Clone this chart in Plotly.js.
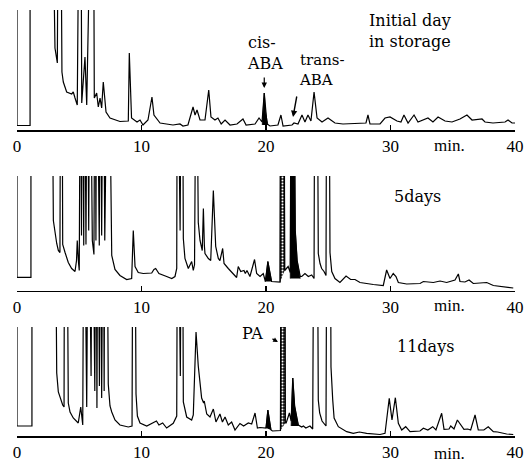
<!DOCTYPE html>
<html><head><meta charset="utf-8">
<script src="https://cdn.plot.ly/plotly-3.0.1.min.js"></script>
<style>html,body{margin:0;padding:0;background:#fff}#chart{width:530px;height:462px}</style>
</head><body><div id="chart"></div>
<script>
// ---- Data: retention time (min) and detector signal (arbitrary units) ----
const tickVals = [0, 10, 20, 30, 40];
const tickText = ["0", "10", "20", "30", "40"];

// Initial day in storage
const t1 = [0,0,1.05,1.05,null,2.79,3.05,3.24,3.33,3.49,3.61,3.72,3.99,4.39,4.52,4.66,4.84,5.02,5.12,5.20,5.46,5.60,6.02,6.13,6.21,6.40,6.53,6.67,6.80,6.93,7.15,7.47,8.27,8.94,9.02,9.20,9.64,9.88,10.12,10.52,10.84,11.00,11.49,12.53,13.09,13.33,13.73,14.14,14.30,14.46,14.70,15.10,15.40,15.58,15.90,16.14,16.40,16.71,17.11,17.67,18.15,18.40,19.12,19.44,19.68,19.86,20.08,20.32,20.96,21.20,21.37,22.09,22.25,22.57,22.89,23.13,23.37,23.61,23.86,24.10,24.50,24.98,25.54,26.18,27.55,28.03,28.19,28.35,29.16,29.56,29.96,30.52,30.84,31.08,31.41,31.89,32.21,33.01,33.41,33.82,34.38,34.94,35.58,36.14,36.55,37.35,37.59,38.23,39.20,39.44,39.76,40.00];
const s1 = [300,4.5,4.5,300,null,300,82,67,300,300,58,48,38,36,38,32,25,300,300,27,73,25,300,300,32,37,23,32,22,48,18,12,8.5,9,77,12,8,10,5,10,33,15,7,5,6,4,5,23,15,20,10,10,40,13,10,12,6,10,5,6,11,5,6,12,8,37,6,4,5,15,4,5,7,6,15,8,15,9,38,12,8,12,7,6,7,7,15,6,6,12,13,9,8,15,7,15,8,12,8,13,9,8,11,15,10,11,8,7,8,10,7,7];
const cisT = [19.70,19.86,19.96,20.15];
const cisS = [5,37,18,5];

// 5 days
const t2 = [0,0,1.12,1.12,null,2.79,2.92,3.19,3.32,3.45,3.51,3.61,3.67,3.86,4.12,4.39,4.66,4.78,4.84,4.94,5.00,5.10,5.18,5.26,5.36,5.41,5.54,5.65,5.76,5.86,6.05,6.18,6.27,6.34,6.40,6.55,6.61,6.67,6.80,6.93,7.05,7.30,7.36,7.61,7.87,8.27,8.81,9.21,9.34,9.48,9.74,10.14,10.82,11.00,11.14,11.40,12.02,12.43,12.69,12.83,12.88,12.98,13.10,13.22,13.28,13.36,13.49,13.76,14.03,14.16,14.26,14.36,14.40,14.56,14.70,14.88,14.97,15.05,15.10,15.37,15.56,15.77,15.96,16.17,16.30,16.52,16.63,16.97,17.37,17.64,17.77,17.97,18.23,18.34,18.47,18.71,19.08,19.25,19.52,19.78,19.95,20.15,20.45,21.13,21.18,21.45,21.50,21.78,21.95,22.02,22.22,22.35,22.50,22.75,22.87,23.13,23.40,23.67,23.86,23.92,24.10,24.20,24.34,24.47,24.66,24.82,24.88,25.05,25.14,25.28,25.54,25.94,26.43,26.80,27.15,27.55,28.62,29.42,29.69,29.96,30.22,30.44,30.63,31.30,32.37,32.64,33.44,33.98,34.51,35.18,35.45,35.58,35.98,36.31,36.65,37.33,37.73,38.26,39.06,39.86];
const s2 = [300,13.2,13.2,300,null,300,70,47,40,38,300,300,46,38,28,22,19,30,50,28,20,300,55,300,45,300,46,300,60,300,50,36,300,50,300,50,45,300,55,300,50,300,300,35,21,15,11,12,60,24,18,17,17.5,21,22,17,14,12,14,22,300,300,60,300,300,52,32,22,29,20,26,300,300,68,50,40,82,45,37,32,30,100,44,32,30,42,27,22,17,13,24,19,20,17,20,14,31,17,14,17,9,29,9,8.5,300,300,20,24,18,300,300,60,30,14,14,17,14,15.5,12,300,300,37,27,22,19,15,300,300,38,19,12,8,14.5,11,11,8,6,5,20.5,12,17,14,8,6.5,7,9,8,9.5,8,10.5,16.5,9,8.5,10.5,7,8,8,5,4,2.5];
const blk2aT = [19.95,20.15,20.45];
const blk2aS = [9,29,9];
const pa2T = [21.13,21.18,21.45,21.50];
const pa2S = [8.5,300,300,20];
const blk2bT = [21.95,22.02,22.22,22.35,22.50,22.75];
const blk2bS = [12,300,300,60,30,12];

// 11 days
const t3 = [0,0,1.2,1.2,null,3.05,3.19,3.32,3.45,3.67,3.78,3.82,3.99,4.12,4.26,4.52,4.92,5.12,5.28,5.38,5.60,5.73,5.95,6.05,6.25,6.35,6.42,6.50,6.62,6.70,6.80,6.93,7.00,7.06,7.20,7.33,7.47,7.61,7.87,8.27,8.94,9.24,9.32,9.45,9.56,9.67,9.88,10.42,11.20,11.40,11.70,12.02,12.55,12.83,12.90,13.00,13.12,13.22,13.28,13.36,13.63,14.03,14.16,14.38,14.56,14.70,14.83,14.99,15.04,15.24,15.50,15.77,15.98,16.30,16.50,16.71,16.97,17.24,17.51,17.91,18.20,18.58,18.85,19.12,19.31,19.52,20.00,20.15,20.40,20.52,21.16,21.22,21.50,21.55,21.62,21.88,22.02,22.15,22.30,22.47,22.60,22.87,23.00,23.20,23.53,23.75,23.86,24.10,24.20,24.31,24.50,24.82,24.90,25.15,25.22,25.36,25.47,25.81,26.48,27.01,27.50,28.08,29.16,29.56,29.90,30.12,30.39,30.63,30.90,31.22,31.57,32.37,32.64,33.00,33.39,33.65,34.11,34.30,34.70,34.84,35.10,35.37,35.55,35.90,36.20,36.44,36.79,37.05,37.50,37.85,38.26,38.60,39.33,39.86];
const s3 = [300,10,10,300,null,300,63,44,39,31,29,300,300,33,24,18,13,29,11,300,29,300,60,300,45,300,28,300,50,300,38,300,45,300,300,52,30,24,16,11,9,10,300,300,42,20,13,10,15,11,13,8,12.7,20,300,300,60,300,300,34,19,16,21,104,70,51,38,33,35,22,19,27,14,22,14,19,11,14,6,12.5,10,13,12,23,8,8.5,8,26,6,5,5.5,300,300,13,13,23,15,58,30,19,11,9,10,8,10,7,300,300,36,23,15,10,300,300,69,36,18,9.3,4.3,2.7,4,2.7,1.5,2.7,37.7,16,38.3,12.7,6,9.3,4.3,5,7.7,6,9.3,6,22.7,6.7,7,10,7,16,13,6.7,7,6,21,6,6,9.3,4.3,4,2,1.5];
const blk3aT = [20.00,20.15,20.40];
const blk3aS = [8,26,6];
const pa3T = [21.16,21.22,21.50,21.55];
const pa3S = [5.5,300,300,13];
const blk3bT = [22.02,22.15,22.30,22.47,22.60];
const blk3bS = [10,58,30,19,10];

// ---- Figure ----
const W = 530, H = 462;
const X0 = 17, X1 = 515;
const panels = [{top:10, bot:130, ax:'x', ay:'y'}, {top:176, bot:290.5, ax:'x2', ay:'y2'}, {top:327, bot:436, ax:'x3', ay:'y3'}];
const line = {color:'black', width:1.2};
function fillTrace(x, y, p, pattern){
  const tr = {x:x, y:y, xaxis:p.ax, yaxis:p.ay, mode:'lines', fill:'toself', fillcolor:'black',
    line:{color:'black', width:0.8}, hoverinfo:'skip', showlegend:false};
  if (pattern) { tr.fillpattern = {shape:'.', bgcolor:'#111', fgcolor:'white', size:3, solidity:0.35}; }
  return tr;
}
const data = [
  fillTrace(cisT, cisS, panels[0]),
  fillTrace(blk2aT, blk2aS, panels[1]),
  fillTrace(pa2T, pa2S, panels[1], true),
  fillTrace(blk2bT, blk2bS, panels[1]),
  fillTrace(blk3aT, blk3aS, panels[2]),
  fillTrace(pa3T, pa3S, panels[2], true),
  fillTrace(blk3bT, blk3bS, panels[2]),
  {x:t1, y:s1, xaxis:'x', yaxis:'y', mode:'lines', line:line, hoverinfo:'skip', showlegend:false},
  {x:t2, y:s2, xaxis:'x2', yaxis:'y2', mode:'lines', line:line, hoverinfo:'skip', showlegend:false},
  {x:t3, y:s3, xaxis:'x3', yaxis:'y3', mode:'lines', line:line, hoverinfo:'skip', showlegend:false}
];

const numFont = {family:'Liberation Serif, serif', size:17, color:'black'};
const txtFont = {family:'DejaVu Serif, serif', size:16, color:'black'};
const smallFont = {family:'DejaVu Serif, serif', size:15, color:'black'};
function xa(anchor){
  return {domain:[X0/W, X1/W], range:[0,40], anchor:anchor, showline:true, linecolor:'black', linewidth:1.6,
    ticks:'inside', ticklen:5, tickwidth:1.5, tickcolor:'black', tickvals:tickVals, ticktext:tickText,
    tickfont:numFont, showgrid:false, zeroline:false, fixedrange:true};
}
function ya(p, anchor){
  return {domain:[1-p.bot/H, 1-p.top/H], range:[0, p.bot-p.top], anchor:anchor, visible:false, fixedrange:true};
}
function py(v){ return 1 - v/H; }
function txt(text, x, xref, y, font, xanchor){
  return {text:text, x:x, xref:xref, y:py(y), yref:'paper', showarrow:false, xanchor:xanchor||'left', yanchor:'middle', align:'left', font:font||txtFont};
}
const annotations = [
  txt('Initial day<br>in storage', 28.11, 'x', 31),
  txt('cis-<br>ABA', 18.31, 'x', 53),
  txt('trans-<br>ABA', 22.49, 'x', 70, smallFont),
  txt('5days', 30.12, 'x2', 196),
  txt('11days', 30.36, 'x3', 346),
  txt('PA', 17.91, 'x3', 333),
  txt('min.', 34.7, 'x', 145, numFont, 'center'),
  txt('min.', 34.7, 'x2', 305, numFont, 'center'),
  txt('min.', 34.7, 'x3', 453, numFont, 'center'),
  {text:'', x:19.86, xref:'x', y:py(88), yref:'paper', showarrow:true, ax:0, ay:-12, arrowhead:2, arrowsize:0.9, arrowwidth:1.2, arrowcolor:'black'},
  {text:'', x:22.17, xref:'x', y:py(117), yref:'paper', showarrow:true, ax:4, ay:-22, arrowhead:2, arrowsize:0.9, arrowwidth:1.4, arrowcolor:'black'},
  {text:'', x:20.96, xref:'x3', y:py(342), yref:'paper', showarrow:true, ax:-7, ay:-4, arrowhead:2, arrowsize:0.8, arrowwidth:1.2, arrowcolor:'black'}
];

const layout = {
  width:W, height:H, margin:{l:0, r:0, t:0, b:0}, paper_bgcolor:'white', plot_bgcolor:'white',
  showlegend:false,
  xaxis:xa('y'), xaxis2:xa('y2'), xaxis3:xa('y3'),
  yaxis:ya(panels[0],'x'), yaxis2:ya(panels[1],'x2'), yaxis3:ya(panels[2],'x3'),
  annotations:annotations
};
Plotly.newPlot('chart', data, layout, {staticPlot:true, displayModeBar:false});
</script></body></html>
